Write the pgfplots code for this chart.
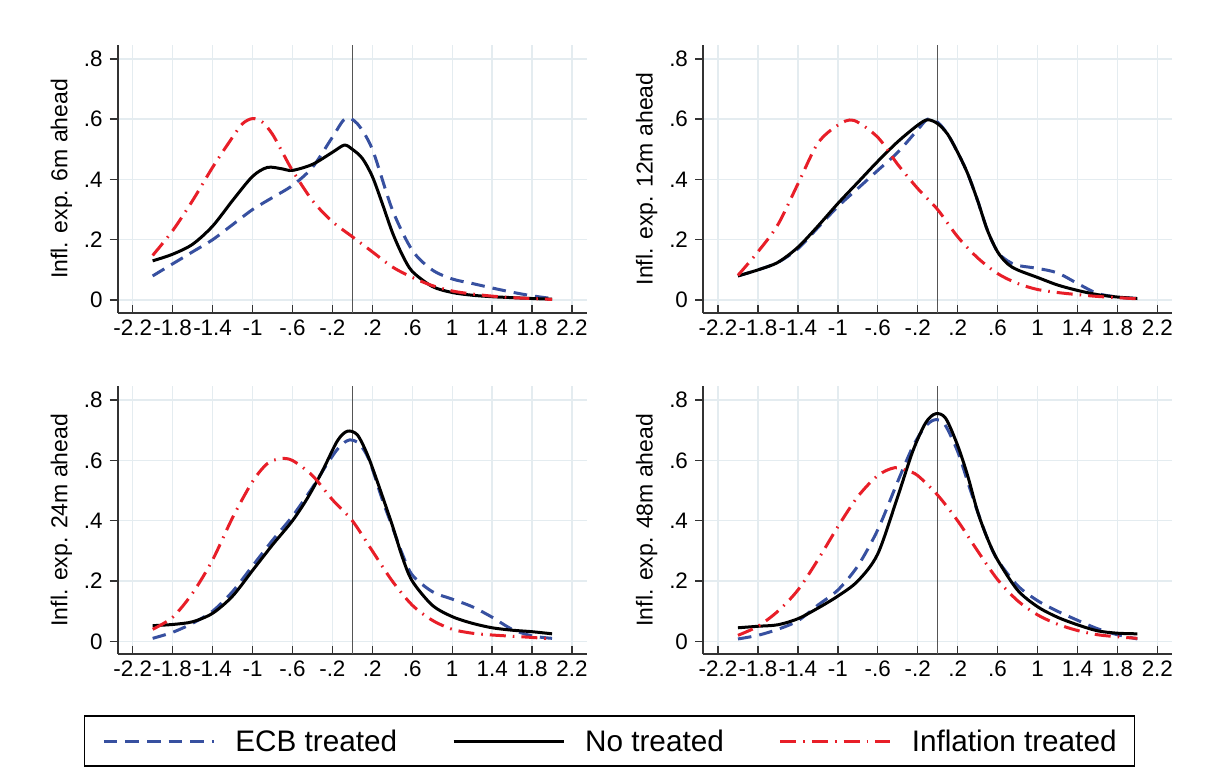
\documentclass[border=0pt]{standalone}
\usepackage{fontspec}
\setmainfont{Liberation Sans}
\usepackage{pgfplots}
\pgfplotsset{compat=1.18}
\definecolor{ecb}{RGB}{55,80,160}
\definecolor{inf}{RGB}{232,30,40}
\definecolor{gridc}{RGB}{228,236,240}
\definecolor{zl}{RGB}{85,85,85}
\tikzset{
 ecbline/.style={color=ecb, line width=1.5pt, dash pattern=on 6.8pt off 4pt, smooth},
 noline/.style={color=black, line width=1.5pt, solid, smooth},
 infline/.style={color=inf, line width=1.5pt, dash pattern=on 8pt off 3.5pt on 0.8pt off 3.5pt, smooth},
 zeroline/.style={color=zl, line width=0.8pt, solid},
}
\pgfplotsset{
 panel/.style={
  scale only axis, width=234.65pt, height=133.85pt,
  anchor=south west,
  xmin=-2.35, xmax=2.35, ymin=-0.042, ymax=0.846,
  axis x line*=bottom, axis y line*=left,
  axis line style={line width=0.85pt, color=black!80, -},
  xtick={-2.2,-1.8,-1.4,-1,-0.6,-0.2,0.2,0.6,1,1.4,1.8,2.2},
  xticklabels={-2.2,-1.8,-1.4,-1,-.6,-.2,.2,.6,1,1.4,1.8,2.2},
  ytick={0,0.2,0.4,0.6,0.8},
  yticklabels={0,.2,.4,.6,.8},
  tick align=outside, major tick length=4pt,
  tick style={line width=0.7pt, color=black!80},
  xtick style={yshift=4pt},
  xticklabel style={yshift=4pt},
  ticklabel style={font=\fontsize{11.2}{13}\selectfont},
  /pgf/number format/assume math mode=true,
  grid=major, major grid style={color=gridc, line width=0.7pt},
  ylabel style={font=\fontsize{11.5}{13}\selectfont, at={(axis description cs:-0.12,0.5)}, anchor=center},
  legend image code/.code={\draw[##1] (0pt,0pt) -- (55pt,0pt);},
 }
}
\begin{document}
\begin{tikzpicture}
\path[use as bounding box] (0,0) rectangle (607.5pt,384pt);
% ---------------- 6m ----------------
\begin{axis}[panel, at={(58.85pt,227.65pt)}, ylabel={Infl. exp. 6m ahead}]
\addplot[zeroline, forget plot] coordinates {(0,-0.042) (0,0.846)};
\addplot[ecbline] coordinates {(-2,0.08) (-1.8,0.12) (-1.6,0.16) (-1.4,0.20) (-1.2,0.25) (-1.0,0.30) (-0.8,0.34) (-0.6,0.38) (-0.4,0.44) (-0.2,0.54) (-0.07,0.602) (0.05,0.585) (0.2,0.50) (0.4,0.30) (0.6,0.165) (0.8,0.10) (1.0,0.07) (1.2,0.055) (1.4,0.04) (1.6,0.026) (1.8,0.014) (2.0,0.005)};
\addplot[noline] coordinates {(-2,0.13) (-1.8,0.152) (-1.6,0.185) (-1.4,0.245) (-1.2,0.33) (-1.0,0.41) (-0.85,0.44) (-0.7,0.435) (-0.6,0.43) (-0.4,0.45) (-0.2,0.49) (-0.08,0.514) (0,0.50) (0.1,0.47) (0.2,0.41) (0.3,0.32) (0.4,0.225) (0.5,0.15) (0.6,0.095) (0.8,0.045) (1.0,0.025) (1.2,0.016) (1.4,0.011) (1.6,0.008) (1.8,0.005) (2.0,0.003)};
\addplot[infline] coordinates {(-2,0.148) (-1.8,0.23) (-1.6,0.33) (-1.4,0.44) (-1.2,0.54) (-1.1,0.585) (-1.0,0.602) (-0.9,0.59) (-0.8,0.55) (-0.7,0.49) (-0.6,0.43) (-0.4,0.33) (-0.2,0.26) (0,0.21) (0.2,0.16) (0.4,0.11) (0.6,0.075) (0.8,0.048) (1.0,0.03) (1.2,0.02) (1.4,0.013) (1.6,0.008) (1.8,0.005) (2.0,0.002)};
\end{axis}
% ---------------- 12m ----------------
\begin{axis}[panel, at={(351.5pt,227.65pt)}, ylabel={Infl. exp. 12m ahead}]
\addplot[zeroline, forget plot] coordinates {(0,-0.042) (0,0.846)};
\addplot[ecbline] coordinates {(-2,0.08) (-1.8,0.10) (-1.6,0.125) (-1.4,0.17) (-1.2,0.24) (-1.0,0.31) (-0.8,0.37) (-0.6,0.43) (-0.4,0.49) (-0.2,0.565) (-0.1,0.60) (0,0.59) (0.1,0.55) (0.2,0.49) (0.3,0.42) (0.4,0.33) (0.5,0.23) (0.6,0.16) (0.7,0.13) (0.8,0.115) (1.0,0.105) (1.2,0.09) (1.4,0.055) (1.6,0.022) (1.8,0.01) (2.0,0.005)};
\addplot[noline] coordinates {(-2,0.08) (-1.8,0.10) (-1.6,0.125) (-1.4,0.175) (-1.2,0.245) (-1.0,0.32) (-0.8,0.39) (-0.6,0.46) (-0.4,0.525) (-0.2,0.58) (-0.1,0.598) (0,0.585) (0.1,0.55) (0.2,0.49) (0.3,0.42) (0.4,0.33) (0.5,0.23) (0.6,0.16) (0.7,0.12) (0.8,0.10) (1.0,0.075) (1.2,0.05) (1.4,0.032) (1.6,0.018) (1.8,0.01) (2.0,0.005)};
\addplot[infline] coordinates {(-2,0.082) (-1.8,0.16) (-1.6,0.25) (-1.4,0.385) (-1.2,0.52) (-1.0,0.58) (-0.84,0.596) (-0.6,0.54) (-0.4,0.45) (-0.2,0.37) (0,0.30) (0.2,0.21) (0.4,0.14) (0.6,0.088) (0.8,0.055) (1.0,0.035) (1.2,0.025) (1.4,0.018) (1.6,0.012) (1.8,0.008) (2.0,0.004)};
\end{axis}
% ---------------- 24m ----------------
\begin{axis}[panel, at={(58.85pt,57pt)}, ylabel={Infl. exp. 24m ahead},
  legend columns=3,
  legend style={at={(axis description cs:1.0479,-0.325)}, anchor=center,
    draw=black, line width=0.75pt, fill=white,
    font=\fontsize{14.85}{17}\selectfont,
    inner xsep=9pt, inner ysep=7pt,
    nodes={inner sep=0pt, text depth=0pt},
    /tikz/every odd column/.append style={column sep=10pt},
    /tikz/every even column/.append style={column sep=27.5pt}}]
\addplot[zeroline, forget plot] coordinates {(0,-0.042) (0,0.846)};
\addplot[ecbline] coordinates {(-2,0.01) (-1.8,0.03) (-1.6,0.06) (-1.4,0.10) (-1.2,0.165) (-1.0,0.25) (-0.8,0.335) (-0.6,0.415) (-0.4,0.51) (-0.25,0.59) (-0.13,0.645) (-0.03,0.668) (0.07,0.655) (0.17,0.6) (0.3,0.47) (0.4,0.38) (0.5,0.29) (0.6,0.22) (0.8,0.165) (1.0,0.14) (1.2,0.115) (1.4,0.08) (1.6,0.04) (1.8,0.018) (2.0,0.01)};
\addplot[noline] coordinates {(-2,0.052) (-1.8,0.056) (-1.6,0.065) (-1.4,0.093) (-1.2,0.15) (-1.0,0.235) (-0.8,0.32) (-0.6,0.40) (-0.45,0.475) (-0.3,0.565) (-0.15,0.665) (-0.05,0.697) (0.05,0.685) (0.15,0.62) (0.25,0.53) (0.4,0.385) (0.5,0.28) (0.6,0.20) (0.8,0.12) (1.0,0.082) (1.2,0.06) (1.4,0.045) (1.6,0.037) (1.8,0.032) (2.0,0.025)};
\addplot[infline] coordinates {(-2,0.04) (-1.8,0.08) (-1.6,0.16) (-1.4,0.27) (-1.2,0.41) (-1.0,0.53) (-0.85,0.59) (-0.72,0.606) (-0.6,0.60) (-0.4,0.55) (-0.2,0.47) (0,0.40) (0.2,0.30) (0.4,0.20) (0.6,0.12) (0.8,0.07) (1.0,0.04) (1.2,0.027) (1.4,0.021) (1.6,0.017) (1.8,0.013) (2.0,0.008)};
\legend{ECB treated, No treated, Inflation treated}
\end{axis}
% ---------------- 48m ----------------
\begin{axis}[panel, at={(351.5pt,57pt)}, ylabel={Infl. exp. 48m ahead}]
\addplot[zeroline, forget plot] coordinates {(0,-0.042) (0,0.846)};
\addplot[ecbline] coordinates {(-2,0.008) (-1.8,0.02) (-1.6,0.04) (-1.4,0.068) (-1.2,0.12) (-1.0,0.17) (-0.8,0.25) (-0.6,0.37) (-0.4,0.53) (-0.25,0.645) (-0.13,0.71) (-0.03,0.735) (0.07,0.72) (0.2,0.63) (0.3,0.53) (0.4,0.43) (0.5,0.34) (0.6,0.27) (0.8,0.185) (1.0,0.135) (1.2,0.10) (1.4,0.07) (1.6,0.042) (1.8,0.022) (2.0,0.008)};
\addplot[noline] coordinates {(-2,0.045) (-1.8,0.05) (-1.6,0.055) (-1.4,0.075) (-1.2,0.11) (-1.0,0.15) (-0.8,0.20) (-0.6,0.29) (-0.4,0.48) (-0.25,0.63) (-0.12,0.725) (-0.02,0.755) (0.08,0.74) (0.2,0.65) (0.3,0.55) (0.4,0.43) (0.5,0.34) (0.6,0.27) (0.8,0.17) (1.0,0.115) (1.2,0.08) (1.4,0.055) (1.6,0.035) (1.8,0.027) (2.0,0.025)};
\addplot[infline] coordinates {(-2,0.02) (-1.8,0.05) (-1.6,0.10) (-1.4,0.17) (-1.2,0.27) (-1.0,0.38) (-0.8,0.48) (-0.6,0.55) (-0.43,0.576) (-0.3,0.565) (-0.2,0.55) (0,0.485) (0.2,0.40) (0.4,0.30) (0.6,0.205) (0.8,0.135) (1.0,0.088) (1.2,0.057) (1.4,0.036) (1.6,0.022) (1.8,0.015) (2.0,0.01)};
\end{axis}
\end{tikzpicture}
\end{document}
